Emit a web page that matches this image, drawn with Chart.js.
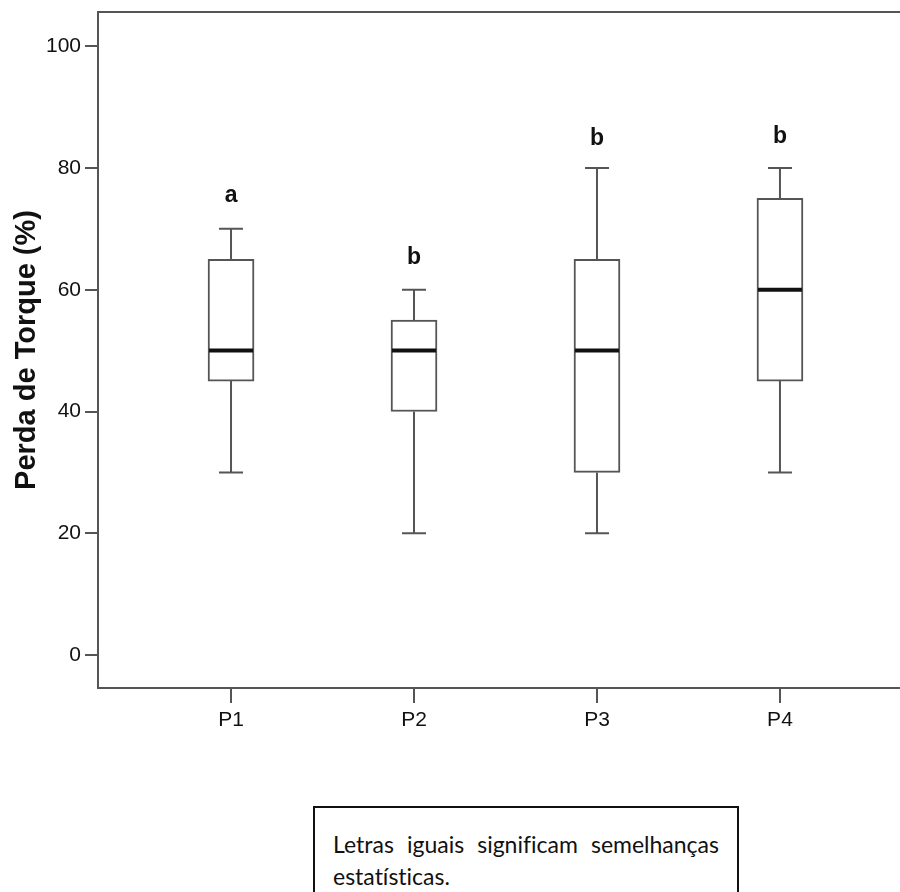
<!DOCTYPE html>
<html>
<head>
<meta charset="utf-8">
<script src="https://cdn.jsdelivr.net/npm/chart.js@4"></script>
<style>
  body { margin: 0; background: #fff; width: 900px; height: 892px; overflow: hidden; position: relative; }
  #wrap { position: absolute; left: 0; top: 0; width: 900px; height: 760px; }
  #nota {
    position: absolute; left: 313px; top: 806px; width: 386px; height: 100px;
    border: 2px solid #111; padding: 20px 18px 0 18px;
    font-family: Lato, "Open Sans", sans-serif; font-size: 23px; line-height: 32px;
    font-variant-ligatures: none;
    text-align: justify; color: #111;
  }
</style>
</head>
<body>
<div id="wrap"><canvas id="boxplot"></canvas></div>
<div id="nota">Letras iguais significam semelhanças estatísticas.</div>
<script>

var grupos = ['P1', 'P2', 'P3', 'P4'];
var minimos = [30, 20, 20, 30];
var quartil1 = [45, 40, 30, 45];
var medianas = [50, 50, 50, 60];
var quartil3 = [65, 55, 65, 75];
var maximos = [70, 60, 80, 80];
var letras = ['a', 'b', 'b', 'b'];
var posLetras = [75.5, 65.3, 84.8, 85.1];
var ticksY = [0, 20, 40, 60, 80, 100];

var corLinha = '#555';
var fonte = '"Liberation Sans", Arial, sans-serif';

// caixas como barras flutuantes [Q1, Q3]
var caixas = [];
grupos.forEach((g, i) => {
    caixas.push({ x: i + 1, y: [quartil1[i], quartil3[i]] });
});

// bigodes, mediana e letras desenhados pelas escalas do grafico
var bigodes = {
    id: 'bigodes',
    beforeDatasetsDraw(chart) {
        var ctx = chart.ctx;
        var sx = chart.scales.x, sy = chart.scales.y;
        ctx.save();
        ctx.strokeStyle = corLinha;
        ctx.lineWidth = 2;
        grupos.forEach((g, i) => {
            var x = sx.getPixelForValue(i + 1);
            ctx.beginPath();
            ctx.moveTo(x, sy.getPixelForValue(minimos[i]));
            ctx.lineTo(x, sy.getPixelForValue(quartil1[i]));
            ctx.moveTo(x, sy.getPixelForValue(quartil3[i]));
            ctx.lineTo(x, sy.getPixelForValue(maximos[i]));
            ctx.moveTo(x - 12, sy.getPixelForValue(minimos[i]));
            ctx.lineTo(x + 12, sy.getPixelForValue(minimos[i]));
            ctx.moveTo(x - 12, sy.getPixelForValue(maximos[i]));
            ctx.lineTo(x + 12, sy.getPixelForValue(maximos[i]));
            ctx.stroke();
        });
        ctx.restore();
    },
    afterDatasetsDraw(chart) {
        var ctx = chart.ctx;
        var sx = chart.scales.x, sy = chart.scales.y;
        var area = chart.chartArea;
        ctx.save();
        ctx.strokeStyle = '#111';
        ctx.lineWidth = 4;
        grupos.forEach((g, i) => {
            var x = sx.getPixelForValue(i + 1);
            var y = sy.getPixelForValue(medianas[i]);
            ctx.beginPath();
            ctx.moveTo(x - 22, y);
            ctx.lineTo(x + 22, y);
            ctx.stroke();
        });
        ctx.fillStyle = '#111';
        ctx.font = 'bold 23px ' + fonte;
        ctx.textAlign = 'center';
        ctx.textBaseline = 'middle';
        grupos.forEach((g, i) => {
            ctx.fillText(letras[i], sx.getPixelForValue(i + 1), sy.getPixelForValue(posLetras[i]));
        });
        // moldura superior
        ctx.strokeStyle = corLinha;
        ctx.lineWidth = 2;
        ctx.beginPath();
        ctx.moveTo(area.left, area.top);
        ctx.lineTo(area.right, area.top);
        ctx.stroke();
        ctx.restore();
    }
};

var canvas = document.getElementById('boxplot');

var config = {
    type: 'bar',
    data: {
        datasets: [{
            data: caixas,
            backgroundColor: '#fff',
            borderColor: corLinha,
            borderWidth: 2,
            borderSkipped: false,
            barThickness: 46
        }]
    },
    options: {
        responsive: true,
        maintainAspectRatio: false,
        animation: false,
        layout: { padding: { top: 12, right: 0, left: 0, bottom: 0 } },
        plugins: {
            legend: { display: false },
            tooltip: { enabled: false }
        },
        scales: {
            x: {
                type: 'linear',
                min: 0.273,
                max: 4.656,
                offset: false,
                afterBuildTicks: (s) => { s.ticks = grupos.map((g, i) => ({ value: i + 1 })); },
                afterFit: (s) => { s.height = 72; s.paddingLeft = 0; s.paddingRight = 0; },
                ticks: {
                    callback: (v) => grupos[v - 1],
                    color: '#111',
                    font: { family: fonte, size: 21 },
                    padding: 5,
                    maxRotation: 0
                },
                grid: { offset: false, drawOnChartArea: false, drawTicks: true, tickLength: 15, color: corLinha, lineWidth: 2 },
                border: { display: true, color: corLinha, width: 2 }
            },
            y: {
                min: -5.4,
                max: 105.6,
                afterBuildTicks: (s) => { s.ticks = ticksY.map(v => ({ value: v })); },
                afterFit: (s) => { s.width = 98; s.paddingTop = 0; s.paddingBottom = 0; },
                ticks: {
                    color: '#111',
                    font: { family: fonte, size: 21 },
                    padding: 4
                },
                grid: { drawOnChartArea: false, drawTicks: true, tickLength: 13, color: corLinha, lineWidth: 2 },
                border: { display: true, color: corLinha, width: 2 },
                title: {
                    display: true,
                    text: 'Perda de Torque (%)',
                    color: '#111',
                    font: { family: fonte, size: 29, weight: 'bold' },
                    padding: { top: 10, bottom: 0 }
                }
            }
        }
    },
    plugins: [bigodes]
};

window.boxplot = new Chart(canvas, config);

</script>
</body>
</html>
